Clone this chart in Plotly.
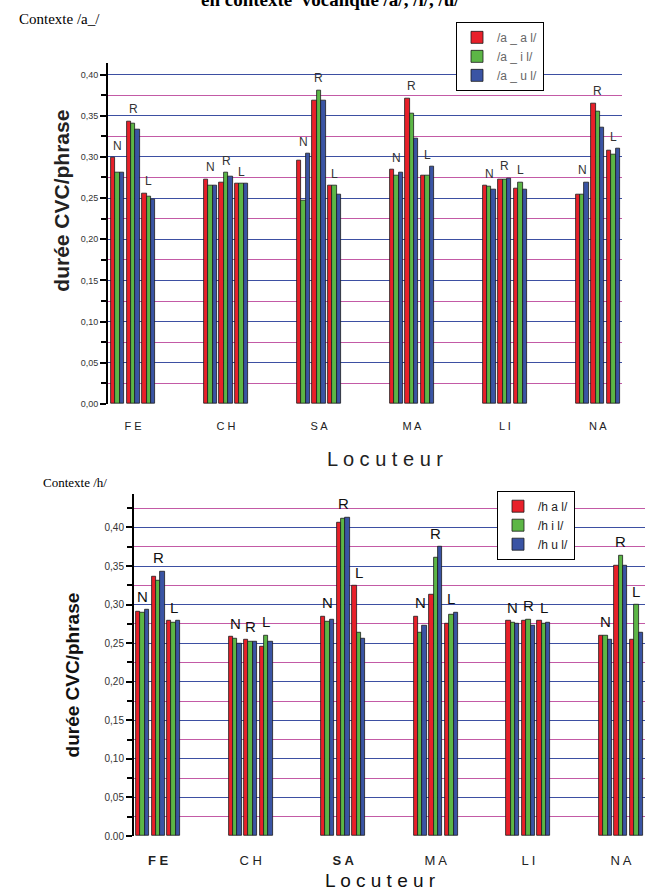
import plotly.graph_objects as go

categories = ["FE", "CH", "SA", "MA", "LI", "NA"]
conditions = ["N", "R", "L"]

# Contexte /a_/ : values per locuteur, in order N, R, L
top_a_al = [[0.299, 0.343, 0.256], [0.273, 0.269, 0.267], [0.296, 0.368, 0.265],
            [0.284, 0.371, 0.277], [0.265, 0.273, 0.261], [0.254, 0.365, 0.308]]
top_a_il = [[0.281, 0.341, 0.252], [0.265, 0.281, 0.267], [0.247, 0.381, 0.265],
            [0.277, 0.353, 0.277], [0.264, 0.273, 0.269], [0.254, 0.355, 0.303]]
top_a_ul = [[0.281, 0.333, 0.248], [0.265, 0.276, 0.267], [0.304, 0.368, 0.254],
            [0.281, 0.322, 0.288], [0.260, 0.274, 0.260], [0.269, 0.335, 0.310]]

# Contexte /h/
bot_hal = [[0.291, 0.336, 0.279], [0.258, 0.254, 0.245], [0.285, 0.406, 0.324],
           [0.285, 0.313, 0.275], [0.279, 0.279, 0.279], [0.260, 0.351, 0.255]]
bot_hil = [[0.290, 0.331, 0.277], [0.256, 0.252, 0.260], [0.278, 0.411, 0.263],
           [0.264, 0.361, 0.287], [0.277, 0.281, 0.275], [0.260, 0.364, 0.300]]
bot_hul = [[0.293, 0.343, 0.279], [0.250, 0.252, 0.252], [0.281, 0.413, 0.256],
           [0.273, 0.375, 0.290], [0.275, 0.273, 0.277], [0.255, 0.351, 0.263]]

top_names = ["/a _ a l/", "/a _ i l/", "/a _ u l/"]
bot_names = ["/h a l/", "/h i l/", "/h u l/"]
ytick_vals = [0, 0.05, 0.10, 0.15, 0.20, 0.25, 0.30, 0.35, 0.40]
top_ytext = ["0,00", "0,05", "0,10", "0,15", "0,20", "0,25", "0,30", "0,35", "0,40"]
bot_ytext = ["0.00", "0,05", "0,10", "0,15", "0,20", "0,25", "0,30", "0,35", "0,40"]
top_xtext = ["F E", "C H", "S A", "M A", "L I", "N A"]
bot_xtext = ["<b>F E</b>", "C H", "<b>S A</b>", "M A", "L I", "N A"]

colors = ["#e8202a", "#5cb646", "#3a54a4"]
BLUE_GRID = "#3d4fa2"
MAG_GRID = "#c35aa6"

SUB = 0.168   # spacing between N/R/L subgroups
BW = 0.047    # bar width

fig = go.Figure()

def add_panel(series, names, xa, ya, legend):
    for k, (vals, nm) in enumerate(zip(series, names)):
        xs, ys = [], []
        for i in range(len(categories)):
            for j in range(len(conditions)):
                xs.append(i + (j - 1) * SUB + (k - 1) * BW)
                ys.append(vals[i][j])
        fig.add_trace(go.Bar(
            x=xs, y=ys, width=BW, name=nm, xaxis=xa, yaxis=ya, legend=legend,
            marker=dict(color=colors[k], line=dict(color="#1a1a1a", width=0.8)),
        ))

add_panel([top_a_al, top_a_il, top_a_ul], top_names, "x", "y", "legend")
add_panel([bot_hal, bot_hil, bot_hul], bot_names, "x2", "y2", "legend2")

annotations = []

def add_letters(series, xref, yref, size, color):
    for i in range(len(categories)):
        for j, c in enumerate(conditions):
            top = max(s[i][j] for s in series)
            annotations.append(dict(
                x=i + (j - 1) * SUB, y=top, xref=xref, yref=yref, text=c,
                showarrow=False, yanchor="bottom", yshift=3,
                font=dict(family="Liberation Sans, Arial", size=size, color=color)))

add_letters([top_a_al, top_a_il, top_a_ul], "x", "y", 12, "#333333")
add_letters([bot_hal, bot_hil, bot_hul], "x2", "y2", 15, "#111111")

def page_text(text, px, py, size, family="Liberation Sans, Arial", color="#000",
              angle=0, xanchor="center"):
    annotations.append(dict(text=text, x=px / 652, y=1 - py / 896, xref="paper", yref="paper",
                            showarrow=False, xanchor=xanchor, yanchor="middle", textangle=angle,
                            font=dict(family=family, size=size, color=color)))

page_text("<b>en contexte  vocalique /a/, /i/, /u/</b>", 330, -1, 19, family="Liberation Serif")
page_text("Contexte /a_/", 17, 19, 15, family="Liberation Serif", xanchor="left")
page_text("Contexte /h/", 41, 486, 13, family="Liberation Serif", xanchor="left")
page_text("<b>durée CVC/phrase</b>", 62, 202, 21, color="#222", angle=-90)
page_text("<b>durée CVC/phrase</b>", 72, 680, 19, color="#111", angle=-90)
page_text("L o c u t e u r", 385, 462, 20, color="#222")
page_text("L o c u t e u r", 380, 886, 19, color="#111")

def yaxis(domain, rng, text, size, anchor):
    return dict(domain=domain, range=rng, tickmode="array", tickvals=ytick_vals, ticktext=text,
                anchor=anchor,
                showgrid=True, gridcolor=BLUE_GRID, gridwidth=1.4,
                showline=True, linecolor="#000", linewidth=2,
                ticks="outside", ticklen=6, tickwidth=2, tickcolor="#000",
                tickfont=dict(family="Liberation Sans, Arial", size=size, color="#333"),
                minor=dict(tickmode="linear", tick0=0, dtick=0.025, showgrid=True,
                           gridcolor=MAG_GRID, gridwidth=1.4, ticks="outside",
                           ticklen=5, tickwidth=2, tickcolor="#000"),
                zeroline=False, fixedrange=True)

def xaxis(domain, rng, text, size, standoff, anchor):
    return dict(domain=domain, range=rng, tickmode="array", tickvals=list(range(len(categories))),
                ticktext=text, showgrid=False, showline=False, zeroline=False, ticks="",
                ticklabelstandoff=standoff, anchor=anchor,
                tickfont=dict(family="Liberation Sans, Arial", size=size, color="#222"))

fig.update_layout(
    width=652, height=896, margin=dict(l=0, r=0, t=0, b=0),
    paper_bgcolor="white", plot_bgcolor="white",
    barmode="overlay", bargap=0,
    showlegend=True,
    xaxis=xaxis([108 / 652, 622 / 652], [-0.27, 5.26], top_xtext, 11, 14, "y"),
    yaxis=yaxis([1 - 406.7 / 896, 1 - 63 / 896], [0, 0.4145], top_ytext, 9, "x"),
    xaxis2=xaxis([134 / 652, 645 / 652], [-0.26, 5.26], bot_xtext, 13, 15, "y2"),
    yaxis2=yaxis([1 - 841.7 / 896, 1 - 497 / 896], [0, 0.4438], bot_ytext, 10, "x2"),
    legend=dict(x=456 / 652, y=1 - 22 / 896, xanchor="left", yanchor="top",
                bgcolor="white", bordercolor="#000", borderwidth=1,
                font=dict(family="Liberation Sans, Arial", size=12, color="#666"),
                tracegroupgap=0, itemwidth=30),
    legend2=dict(x=497 / 652, y=1 - 494 / 896, xanchor="left", yanchor="top",
                 bgcolor="white", bordercolor="#000", borderwidth=1,
                 font=dict(family="Liberation Sans, Arial", size=12, color="#222"),
                 tracegroupgap=0, itemwidth=30),
    annotations=annotations,
)

fig.write_html("out.html")
